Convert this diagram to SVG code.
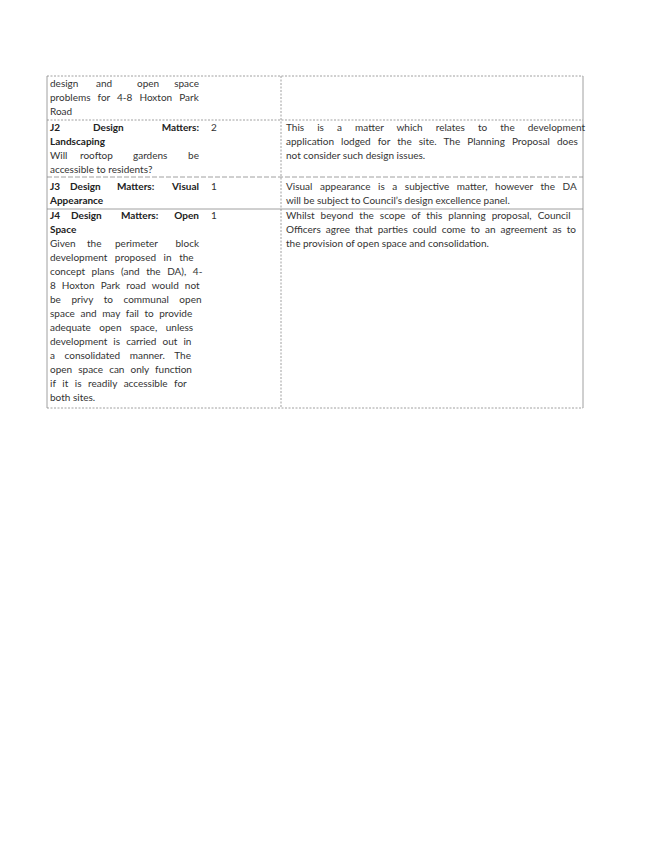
<svg xmlns="http://www.w3.org/2000/svg" width="652" height="844" viewBox="0 0 652 844">
<style>
text{font-family:Lato,"Open Sans","Liberation Sans",sans-serif;font-size:10px;fill:#333}
.b{font-weight:bold;fill:#222}
.l{stroke:#888;stroke-width:0.8;fill:none}
.d{stroke-dasharray:2,1.5}
</style>
<rect width="652" height="844" fill="#fff"/>
<g id="grid">
<line class="l d" x1="47" y1="76" x2="583" y2="76"/>
<line class="l" x1="47" y1="76" x2="47" y2="408"/>
<line class="l" x1="583" y1="76" x2="583" y2="408"/>
<line class="l d" x1="281" y1="76" x2="281" y2="408"/>
<line class="l d" x1="47" y1="120" x2="583" y2="120"/>
<line class="l" style="stroke-dasharray:5,2" x1="47" y1="177" x2="583" y2="177"/>
<line class="l" x1="47" y1="209" x2="583" y2="209"/>
<line class="l d" x1="47" y1="408" x2="583" y2="408"/>
</g>
<g id="row1">
<text x="50" y="87"><tspan>design</tspan><tspan x="96">and</tspan><tspan x="137">open</tspan><tspan x="199" text-anchor="end">space</tspan></text>
<text x="50" y="101" word-spacing="4.5">problems for 4-8 Hoxton Park</text>
<text x="50" y="115">Road</text>
</g>
<g id="row2">
<text class="b" x="50" y="131"><tspan>J2</tspan><tspan x="93">Design</tspan><tspan x="199" text-anchor="end">Matters:</tspan></text>
<text x="211" y="131">2</text>
<text class="b" x="50" y="145">Landscaping</text>
<text x="50" y="159"><tspan>Will</tspan><tspan x="80">rooftop</tspan><tspan x="133">gardens</tspan><tspan x="199" text-anchor="end">be</tspan></text>
<text x="50" y="173">accessible to residents?</text>
<text x="286" y="131" word-spacing="10.5">This is a matter which relates to the development</text>
<text x="286" y="145" word-spacing="4.5">application lodged for the site. The Planning Proposal does</text>
<text x="286" y="159">not consider such design issues.</text>
</g>
<g id="row3">
<text class="b" x="50" y="190"><tspan>J3</tspan><tspan x="70">Design</tspan><tspan x="117">Matters:</tspan><tspan x="199" text-anchor="end">Visual</tspan></text>
<text x="211" y="190">1</text>
<text class="b" x="50" y="204">Appearance</text>
<text x="286" y="190" word-spacing="5">Visual appearance is a subjective matter, however the DA</text>
<text x="286" y="204">will be subject to Council’s design excellence panel.</text>
</g>
<g id="row4">
<text class="b" x="50" y="219"><tspan>J4</tspan><tspan x="71">Design</tspan><tspan x="121">Matters:</tspan><tspan x="199" text-anchor="end">Open</tspan></text>
<text x="211" y="219">1</text>
<text class="b" x="50" y="233">Space</text>
<text x="50" y="247"><tspan>Given</tspan><tspan x="87">the</tspan><tspan x="115">perimeter</tspan><tspan x="199" text-anchor="end">block</tspan></text>
<text x="50" y="261" word-spacing="5">development proposed in the</text>
<text x="50" y="275" word-spacing="4">concept plans (and the DA), 4-</text>
<text x="50" y="289" word-spacing="3.5">8 Hoxton Park road would not</text>
<text x="50" y="303" word-spacing="8">be privy to communal open</text>
<text x="50" y="317" word-spacing="3">space and may fail to provide</text>
<text x="50" y="331" word-spacing="6">adequate open space, unless</text>
<text x="50" y="345" word-spacing="3.5">development is carried out in</text>
<text x="50" y="359" word-spacing="7">a consolidated manner. The</text>
<text x="50" y="373" word-spacing="3.5">open space can only function</text>
<text x="50" y="387" word-spacing="4">if it is readily accessible for</text>
<text x="50" y="401">both sites.</text>
<text x="286" y="219" word-spacing="3.5">Whilst beyond the scope of this planning proposal, Council</text>
<text x="286" y="233" word-spacing="2.5">Officers agree that parties could come to an agreement as to</text>
<text x="286" y="247">the provision of open space and consolidation.</text>
</g>
</svg>
